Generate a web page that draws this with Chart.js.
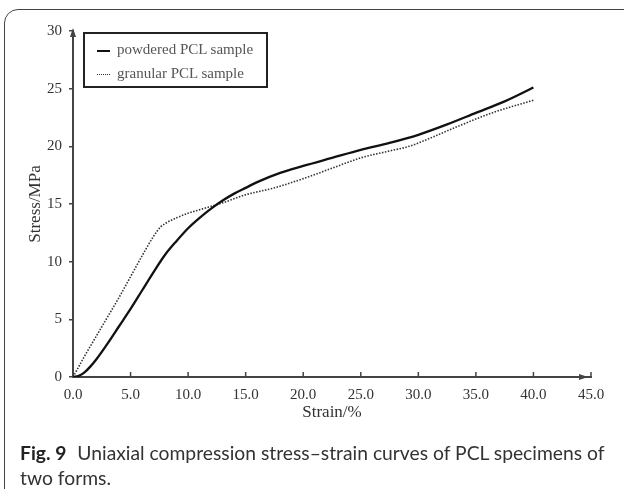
<!DOCTYPE html>
<html>
<head>
<meta charset="utf-8">
<script src="https://cdn.jsdelivr.net/npm/chart.js@4.4.0/dist/chart.umd.min.js"></script>
<style>
  html, body { margin: 0; padding: 0; background: #fff; }
  #wrap { position: relative; width: 624px; height: 489px; overflow: hidden; }
  #frame { position: absolute; left: 4px; top: 9px; width: 660px; height: 500px;
           border: 1px solid #444; border-radius: 14px; box-sizing: border-box; }
  #chart { position: absolute; left: 0; top: 0; }
  #legend { position: absolute; left: 83px; top: 32px; width: 185px; height: 56px;
            border: 2px solid #222; box-sizing: border-box;
            font-family: 'Liberation Serif', 'Times New Roman', serif; font-size: 15px; color: #555; }
  #legend .row { position: absolute; left: 12px; height: 18px; line-height: 18px; white-space: nowrap; }
  #legend .sample { display: inline-block; width: 13px; vertical-align: middle; margin-right: 7px; }
  #caption { position: absolute; left: 20px; top: 440px; width: 610px; white-space: nowrap;
             font-family: Lato, 'Noto Sans', sans-serif; font-size: 19.3px; line-height: 25px; color: #333; }
  #caption b { color: #222; margin-right: 6px; }
</style>
</head>
<body>
<div id="wrap">
  <div id="frame"></div>
  <canvas id="chart" width="624" height="489"></canvas>
  <div id="legend">
    <div class="row" style="top:6px"><span class="sample" style="border-top:2px solid #111"></span>powdered PCL sample</div>
    <div class="row" style="top:30px"><span class="sample" style="border-top:1.5px dotted #333"></span>granular PCL sample</div>
  </div>
  <div id="caption"><b>Fig. 9</b> Uniaxial compression stress–strain curves of PCL specimens of<br>two forms.</div>
</div>
<script>
// powdered PCL sample (solid)
const powderStrain = [0, 0.5, 1, 1.5, 2, 3, 4, 5, 6, 7, 8, 9, 10, 11, 12, 13, 14, 15, 16, 18, 20, 22.5, 25, 27.5, 30, 32.5, 35, 37.5, 40];
const powderStress = [0, 0.1, 0.4, 0.9, 1.5, 2.9, 4.4, 5.9, 7.5, 9.1, 10.6, 11.8, 12.9, 13.8, 14.6, 15.3, 15.9, 16.4, 16.9, 17.7, 18.3, 19.0, 19.7, 20.3, 21.0, 21.9, 22.9, 23.9, 25.1];

// granular PCL sample (dotted)
const granStrain = [0, 0.5, 1, 2, 3, 4, 5, 6, 7, 7.6, 8, 9, 10, 11, 12, 13, 15, 17.5, 20, 22.5, 25, 27.5, 29.2, 31, 33.6, 36.4, 40];
const granStress = [0, 0.9, 1.8, 3.5, 5.2, 6.9, 8.7, 10.5, 12.2, 13.0, 13.3, 13.8, 14.2, 14.5, 14.8, 15.1, 15.8, 16.4, 17.2, 18.1, 19.0, 19.6, 20.0, 20.7, 21.8, 22.9, 24.0];

const xTicks = [0, 5, 10, 15, 20, 25, 30, 35, 40, 45];
const yTicks = [0, 5, 10, 15, 20, 25, 30];

const axisColor = '#444';
const serif = 'Liberation Serif';

function toPoints(xs, ys) {
  return xs.map((x, i) => ({ x: x, y: ys[i] }));
}

// arrows on both axes and inward ticks on the x axis
const axisDecor = {
  id: 'axisDecor',
  afterDraw(chart) {
    const ctx = chart.ctx;
    const xs = chart.scales.x;
    const ys = chart.scales.y;
    const x0 = xs.getPixelForValue(0);
    const y0 = ys.getPixelForValue(0);
    ctx.save();
    ctx.strokeStyle = axisColor;
    ctx.fillStyle = axisColor;
    ctx.lineWidth = 1.5;
    // x ticks pointing up
    xTicks.slice(1).forEach(function (v) {
      const px = xs.getPixelForValue(v);
      ctx.beginPath();
      ctx.moveTo(px, y0);
      ctx.lineTo(px, y0 - 5);
      ctx.stroke();
    });
    // x arrow
    const xEnd = xs.getPixelForValue(45) - 3;
    ctx.beginPath();
    ctx.moveTo(xEnd, y0);
    ctx.lineTo(xEnd - 9, y0 - 3);
    ctx.lineTo(xEnd - 9, y0 + 3);
    ctx.closePath();
    ctx.fill();
    // y arrow
    const yTop = ys.getPixelForValue(30) - 3;
    ctx.beginPath();
    ctx.moveTo(x0, yTop);
    ctx.lineTo(x0 - 3, yTop + 9);
    ctx.lineTo(x0 + 3, yTop + 9);
    ctx.closePath();
    ctx.fill();
    ctx.restore();
  }
};

const chart = new Chart(document.getElementById('chart'), {
  type: 'line',
  data: {
    datasets: [
      {
        label: 'powdered PCL sample',
        data: toPoints(powderStrain, powderStress),
        borderColor: '#111',
        borderWidth: 2.3,
        pointRadius: 0,
        cubicInterpolationMode: 'monotone',
        fill: false
      },
      {
        label: 'granular PCL sample',
        data: toPoints(granStrain, granStress),
        borderColor: '#333',
        borderWidth: 1.6,
        borderDash: [1.5, 1.5],
        pointRadius: 0,
        cubicInterpolationMode: 'monotone',
        fill: false
      }
    ]
  },
  options: {
    responsive: false,
    animation: false,
    layout: { padding: { left: 23, right: 33, top: 31, bottom: 62 } },
    plugins: { legend: { display: false }, tooltip: { enabled: false } },
    scales: {
      x: {
        type: 'linear',
        min: 0,
        max: 45,
        afterBuildTicks: function (s) { s.ticks = xTicks.map(v => ({ value: v })); },
        afterFit: function (s) { s.height = 50; },
        grid: { display: false, drawTicks: false },
        border: { display: true, color: axisColor, width: 2 },
        ticks: {
          padding: 9,
          color: '#333',
          font: { family: serif, size: 15 },
          callback: v => v.toFixed(1)
        },
        title: {
          display: true,
          text: 'Strain/%',
          color: '#333',
          font: { family: serif, size: 17 },
          padding: { top: 0, bottom: 4 }
        }
      },
      y: {
        min: 0,
        max: 30,
        afterBuildTicks: function (s) { s.ticks = yTicks.map(v => ({ value: v })); },
        afterFit: function (s) { s.width = 50; },
        grid: { drawOnChartArea: false, drawTicks: true, tickLength: 4, color: axisColor, lineWidth: 1.5 },
        border: { display: true, color: axisColor, width: 2 },
        ticks: {
          padding: 7,
          color: '#333',
          font: { family: serif, size: 15 }
        },
        title: {
          display: true,
          text: 'Stress/MPa',
          color: '#333',
          font: { family: serif, size: 17 },
          padding: { top: 2, bottom: 0 }
        }
      }
    }
  },
  plugins: [axisDecor]
});
</script>
</body>
</html>
